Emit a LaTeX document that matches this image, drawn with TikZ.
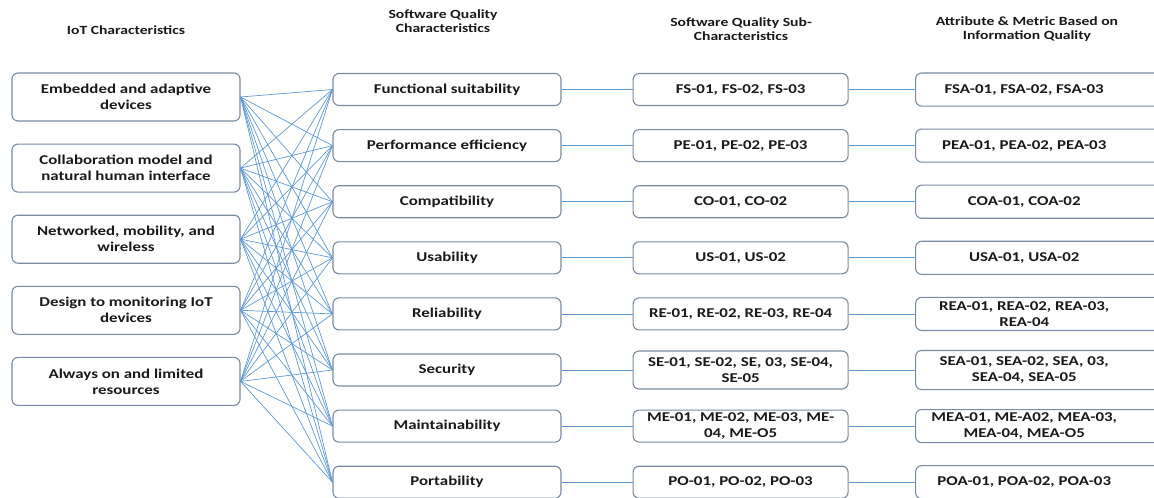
\documentclass[tikz,border=0pt]{standalone}
\usepackage{fontspec}
\setmainfont{Carlito}[FakeStretch=1.25]
\usetikzlibrary{positioning}
\definecolor{framegray}{RGB}{122,138,160}
\definecolor{linkblue}{RGB}{96,152,210}
\definecolor{inkblack}{RGB}{25,25,25}

\begin{document}
\begin{tikzpicture}[
  x=1pt, y=-1pt,
  node distance=23pt and 71pt,
  box/.style={draw=framegray, line width=1.1pt, rounded corners=6pt, align=center,
    font=\fontsize{13.5}{16}\selectfont\bfseries, text=inkblack, inner sep=2pt},
  iot/.style={box, minimum width=228pt, minimum height=48pt},
  quality/.style={box, minimum width=228pt, minimum height=32pt},
  sub/.style={box, minimum width=215pt, minimum height=32pt},
  metric/.style={box, draw=none, minimum width=216pt, minimum height=32pt},
  frame/.style={draw=framegray, line width=1.1pt, rounded corners=6pt},
  head/.style={align=center, font=\fontsize{12.5}{14}\selectfont\bfseries, text=inkblack},
  link/.style={draw=linkblue, line width=0.7pt}
]
\path[use as bounding box, clip] (0,0) rectangle (1154,498);

% column headers
\node[head] (hiot) at (126,30) {IoT Characteristics};
\node[head] (hsq) at (443,21) {Software Quality\\Characteristics};
\node[head] (hsub) at (741,29) {Software Quality Sub-\\Characteristics};
\node[head] (hmet) at (1027,29) {Attribute \& Metric Based on\\Information Quality};

% IoT characteristics
\node[iot] (emb) at (126,97) {Embedded and adaptive\\devices};
\node[iot, below=22pt of emb] (col) {Collaboration model and\\natural human interface};
\node[iot, below=22pt of col] (net) {Networked, mobility, and\\wireless};
\node[iot, below=22pt of net] (des) {Design to monitoring IoT\\devices};
\node[iot, below=22pt of des] (alw) {Always on and limited\\resources};

% software quality characteristics
\node[quality] (fs) at (447,89.5) {Functional suitability};
\node[quality, below=of fs] (pe) {Performance efficiency};
\node[quality, below=of pe] (co) {Compatibility};
\node[quality, below=of co] (us) {Usability};
\node[quality, below=of us] (re) {Reliability};
\node[quality, below=of re] (se) {Security};
\node[quality, below=of se] (ma) {Maintainability};
\node[quality, below=of ma] (po) {Portability};

% sub-characteristics
\node[sub, right=of fs] (fss) {FS-01, FS-02, FS-03};
\node[sub, right=of pe] (pes) {PE-01, PE-02, PE-03};
\node[sub, right=of co] (cos) {CO-01, CO-02};
\node[sub, right=of us] (uss) {US-01, US-02};
\node[sub, right=of re] (res) {RE-01, RE-02, RE-03, RE-04};
\node[sub, right=of se, minimum height=38pt] (ses) {SE-01, SE-02, SE, 03, SE-04,\\SE-05};
\node[sub, right=of ma] (mas) {ME-01, ME-02, ME-03, ME-\\04, ME-O5};
\node[sub, right=of po] (pos) {PO-01, PO-02, PO-03};

% attributes and metrics
\node[metric, right=67pt of fss] (fsa) {FSA-01, FSA-02, FSA-03};
\node[metric, right=67pt of pes] (pea) {PEA-01, PEA-02, PEA-03};
\node[metric, right=67pt of cos] (coa) {COA-01, COA-02};
\node[metric, right=67pt of uss] (usa) {USA-01, USA-02};
\node[metric, right=67pt of res] (rea) {REA-01, REA-02, REA-03,\\REA-04};
\node[metric, right=67pt of ses, minimum height=38pt] (sea) {SEA-01, SEA-02, SEA, 03,\\SEA-04, SEA-05};
\node[metric, right=67pt of mas] (mea) {MEA-01, ME-A02, MEA-03,\\MEA-04, MEA-O5};
\node[metric, right=67pt of pos] (poa) {POA-01, POA-02, POA-03};
\foreach \m in {fsa,pea,coa,usa,rea,sea,mea,poa}
  \draw[frame] (\m.north west) rectangle ([xshift=40pt]\m.south east);

% links
\foreach \i in {emb,col,net,des,alw}
  \foreach \q in {fs,pe,co,us,re,se,ma,po}
    \draw[link] (\i.east) -- (\q.west);
\foreach \q/\s/\m in {fs/fss/fsa, pe/pes/pea, co/cos/coa, us/uss/usa,
    re/res/rea, se/ses/sea, ma/mas/mea, po/pos/poa} {
  \draw[link] (\q) -- (\s);
  \draw[link] (\s) -- (\m);
}
\end{tikzpicture}
\end{document}
